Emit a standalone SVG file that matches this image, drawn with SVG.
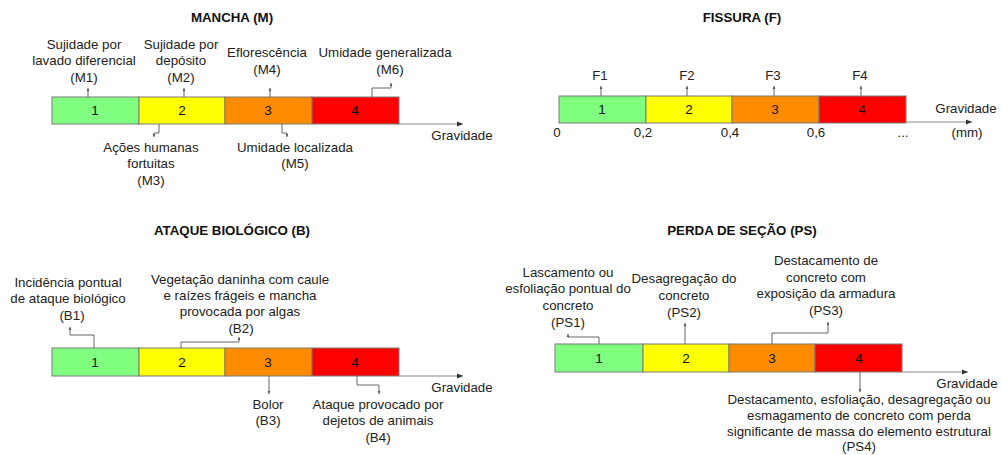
<svg xmlns="http://www.w3.org/2000/svg" width="1002" height="455" viewBox="0 0 1002 455">
<defs>
<marker id="ax" markerUnits="userSpaceOnUse" markerWidth="7" markerHeight="6" refX="6" refY="3" orient="auto"><path d="M0,0.5 L6,3 L0,5.5 Z" fill="#333"/></marker>
<marker id="tk" markerUnits="userSpaceOnUse" markerWidth="4" markerHeight="4" refX="3" refY="2" orient="auto"><path d="M0,0.7 L3,2 L0,3.3 Z" fill="#555"/></marker>
</defs>
<style>
text{font-family:"Liberation Sans",Arial,sans-serif;font-size:13.3px;fill:#222;text-anchor:middle}
.t{font-weight:bold;fill:#111}
.seg{stroke:#7a7a7a;stroke-width:1}
.g{fill:#80ff80}.y{fill:#ffff00}.o{fill:#ff8c00}.r{fill:#ff0000}
.axis{stroke:#8a8a8a;stroke-width:1;fill:none}
.ld{stroke:#666;stroke-width:1;fill:none}
.n{font-size:13.5px;fill:#111}
</style>

<!-- MANCHA -->
<g id="mancha">
<text class="t" x="232" y="22">MANCHA (M)</text>
<g id="m-bar">
<rect class="seg g" x="52" y="97" width="87" height="27"/>
<rect class="seg y" x="139" y="97" width="86" height="27"/>
<rect class="seg o" x="225" y="97" width="87" height="27"/>
<rect class="seg r" x="312" y="97" width="87" height="27"/>
<text class="n" x="95" y="115">1</text>
<text class="n" x="182" y="115">2</text>
<text class="n" x="268" y="115">3</text>
<text class="n" x="355" y="115">4</text>
</g>
<text x="462" y="140">Gravidade</text>
<g id="M1"><text x="84" y="49">Sujidade por</text><text x="84" y="65">lavado diferencial</text><text x="84" y="82">(M1)</text></g>
<g id="M2"><text x="181" y="49">Sujidade por</text><text x="181" y="65">depósito</text><text x="181" y="82">(M2)</text></g>
<g id="M4"><text x="267" y="57">Eflorescência</text><text x="267" y="74">(M4)</text></g>
<g id="M6"><text x="385" y="57">Umidade generalizada</text><text x="390" y="74">(M6)</text></g>
<g id="M3"><text x="151" y="152">Ações humanas</text><text x="151" y="168">fortuitas</text><text x="151" y="185">(M3)</text></g>
<g id="M5"><text x="295" y="152">Umidade localizada</text><text x="295" y="168">(M5)</text></g>
</g>

<!-- FISSURA -->
<g id="fissura">
<text class="t" x="742" y="22">FISSURA (F)</text>
<g id="f-bar">
<rect class="seg g" x="559" y="96" width="87" height="27"/>
<rect class="seg y" x="646" y="96" width="86" height="27"/>
<rect class="seg o" x="732" y="96" width="87" height="27"/>
<rect class="seg r" x="819" y="96" width="87" height="27"/>
<text class="n" x="602" y="114">1</text>
<text class="n" x="689" y="114">2</text>
<text class="n" x="775" y="114">3</text>
<text class="n" x="862" y="114">4</text>
</g>
<g id="F1"><text x="600" y="80">F1</text></g>
<g id="F2"><text x="687" y="80">F2</text></g>
<g id="F3"><text x="773" y="80">F3</text></g>
<g id="F4"><text x="860" y="80">F4</text></g>
<text x="557" y="137">0</text>
<text x="643" y="137">0,2</text>
<text x="730" y="137">0,4</text>
<text x="816" y="137">0,6</text>
<text x="903" y="137">...</text>
<text x="966" y="113">Gravidade</text>
<text x="967" y="137">(mm)</text>
</g>

<!-- ATAQUE BIOLOGICO -->
<g id="ataque">
<text class="t" x="232" y="235">ATAQUE BIOLÓGICO (B)</text>
<g id="b-bar">
<rect class="seg g" x="52" y="348" width="87" height="28"/>
<rect class="seg y" x="139" y="348" width="86" height="28"/>
<rect class="seg o" x="225" y="348" width="87" height="28"/>
<rect class="seg r" x="312" y="348" width="87" height="28"/>
<text class="n" x="95" y="367">1</text>
<text class="n" x="182" y="367">2</text>
<text class="n" x="268" y="367">3</text>
<text class="n" x="355" y="367">4</text>
</g>
<text x="462" y="392">Gravidade</text>
<g id="B1"><text x="68" y="287">Incidência pontual</text><text x="68" y="303">de ataque biológico</text><text x="72" y="320">(B1)</text></g>
<g id="B2"><text x="240" y="284">Vegetação daninha com caule</text><text x="240" y="300">e raízes frágeis e mancha</text><text x="240" y="316">provocada por algas</text><text x="241" y="333">(B2)</text></g>
<g id="B3"><text x="268" y="409">Bolor</text><text x="268" y="425">(B3)</text></g>
<g id="B4"><text x="378" y="409">Ataque provocado por</text><text x="378" y="425">dejetos de animais</text><text x="378" y="442">(B4)</text></g>
</g>

<!-- PERDA DE SECAO -->
<g id="perda">
<text class="t" x="742" y="235">PERDA DE SEÇÃO (PS)</text>
<g id="ps-bar">
<rect class="seg g" x="555" y="344" width="88" height="28"/>
<rect class="seg y" x="643" y="344" width="86" height="28"/>
<rect class="seg o" x="729" y="344" width="86" height="28"/>
<rect class="seg r" x="815" y="344" width="87" height="28"/>
<text class="n" x="599" y="363">1</text>
<text class="n" x="686" y="363">2</text>
<text class="n" x="772" y="363">3</text>
<text class="n" x="859" y="363">4</text>
</g>
<text x="967" y="388">Gravidade</text>
<g id="PS1"><text x="568" y="277">Lascamento ou</text><text x="568" y="293">esfoliação pontual do</text><text x="568" y="310">concreto</text><text x="568" y="327">(PS1)</text></g>
<g id="PS2"><text x="684" y="283">Desagregação do</text><text x="684" y="300">concreto</text><text x="684" y="317">(PS2)</text></g>
<g id="PS3"><text x="826" y="265">Destacamento de</text><text x="826" y="282">concreto com</text><text x="826" y="298">exposição da armadura</text><text x="826" y="315">(PS3)</text></g>
<g id="PS4"><text x="859" y="404">Destacamento, esfoliação, desagregação ou</text><text x="859" y="420">esmagamento de concreto com perda</text><text x="859" y="436">significante de massa do elemento estrutural</text><text x="859" y="451">(PS4)</text></g>
</g>

<!-- connectors -->
<g id="connectors">
<path class="axis" d="M399,124 H463" marker-end="url(#ax)"/>
<path class="axis" d="M906,122 H972" marker-end="url(#ax)"/>
<path class="axis" d="M399,376 H463" marker-end="url(#ax)"/>
<path class="axis" d="M902,372 H968" marker-end="url(#ax)"/>

<path class="ld" d="M88,97 V88" marker-end="url(#tk)"/>
<path class="ld" d="M184,97 V88" marker-end="url(#tk)"/>
<path class="ld" d="M270,97 V88" marker-end="url(#tk)"/>
<path class="ld" d="M372,97 V88 H391 V83" marker-end="url(#tk)"/>
<path class="ld" d="M159,124 V133 H154 V137" marker-end="url(#tk)"/>
<path class="ld" d="M282,124 V133 H287 V137" marker-end="url(#tk)"/>

<path class="ld" d="M601,96 V86" marker-end="url(#tk)"/>
<path class="ld" d="M687,96 V86" marker-end="url(#tk)"/>
<path class="ld" d="M774,96 V86" marker-end="url(#tk)"/>
<path class="ld" d="M861,96 V86" marker-end="url(#tk)"/>

<path class="ld" d="M94,348 V335 H70 V327" marker-end="url(#tk)"/>
<path class="ld" d="M181,348 V342 H239 V337" marker-end="url(#tk)"/>
<path class="ld" d="M269,376 V394" marker-end="url(#tk)"/>
<path class="ld" d="M357,376 V385 H379 V394" marker-end="url(#tk)"/>

<path class="ld" d="M599,344 V337 H568 V334" marker-end="url(#tk)"/>
<path class="ld" d="M685,344 V323" marker-end="url(#tk)"/>
<path class="ld" d="M772,344 V333 H828 V322" marker-end="url(#tk)"/>
<path class="ld" d="M860,372 V392" marker-end="url(#tk)"/>
</g>
</svg>
